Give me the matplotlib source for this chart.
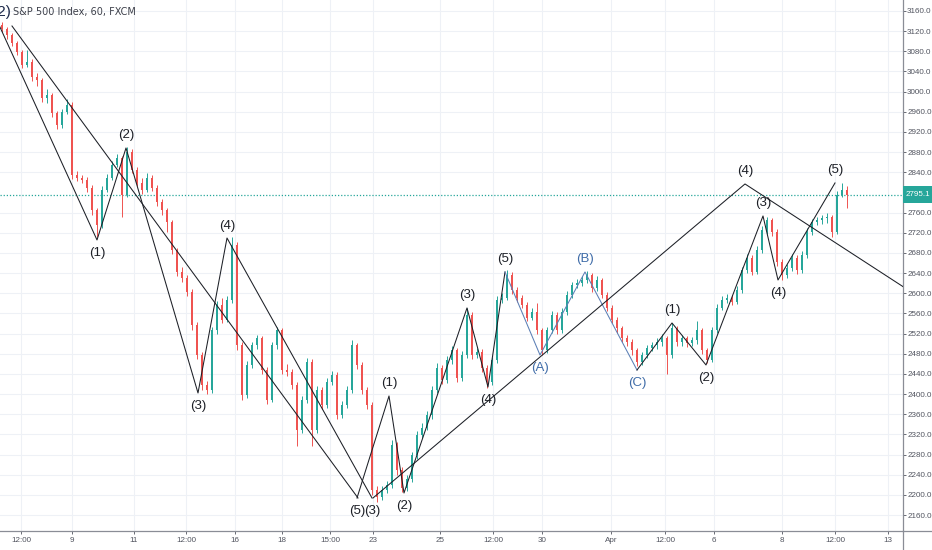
import numpy as np
import matplotlib
matplotlib.use("Agg")
import matplotlib.pyplot as plt
from matplotlib import font_manager
from matplotlib.patches import Rectangle
from matplotlib.lines import Line2D

# hourly S&P 500 candles (one bar per ~5 px of the original)
first_open = 3132
closes = [3125, 3112, 3097, 3079, 3053, 3059, 3029, 3023, 2987, 2993,
          2958, 2934, 2960, 2974, 2835, 2829, 2825, 2809, 2765, 2735,
          2805, 2829, 2855, 2868, 2795, 2880, 2845, 2819, 2805, 2829,
          2809, 2781, 2765, 2741, 2686, 2642, 2630, 2602, 2537, 2478,
          2418, 2408, 2527, 2577, 2547, 2587, 2696, 2497, 2398, 2458,
          2497, 2511, 2448, 2388, 2497, 2527, 2448, 2444, 2418, 2329,
          2388, 2464, 2329, 2408, 2378, 2424, 2438, 2358, 2378, 2408,
          2497, 2458, 2408, 2378, 2210, 2196, 2210, 2220, 2299, 2249,
          2214, 2232, 2279, 2319, 2333, 2358, 2408, 2452, 2428, 2468,
          2487, 2432, 2478, 2557, 2478, 2484, 2452, 2424, 2468, 2587,
          2591, 2636, 2606, 2591, 2577, 2551, 2563, 2527, 2487, 2527,
          2557, 2527, 2563, 2597, 2616, 2620, 2626, 2636, 2610, 2626,
          2597, 2571, 2547, 2531, 2511, 2503, 2487, 2464, 2478, 2491,
          2497, 2503, 2511, 2478, 2531, 2503, 2511, 2501, 2507, 2527,
          2487, 2468, 2527, 2571, 2587, 2591, 2583, 2606, 2646, 2670,
          2642, 2686, 2726, 2745, 2722, 2662, 2636, 2650, 2670, 2646,
          2676, 2722, 2741, 2745, 2749, 2751, 2722, 2795, 2805, 2795.1]
highs = [3138, 3128, 3116, 3101, 3083, 3083, 3064, 3036, 3027, 3005,
         2998, 2962, 2966, 2986, 2980, 2842, 2834, 2830, 2814, 2770,
         2812, 2836, 2862, 2876, 2872, 2890, 2886, 2850, 2828, 2838,
         2834, 2814, 2786, 2770, 2745, 2690, 2652, 2636, 2608, 2542,
         2484, 2426, 2534, 2584, 2590, 2594, 2712, 2702, 2504, 2466,
         2504, 2518, 2516, 2454, 2504, 2534, 2532, 2460, 2450, 2424,
         2396, 2472, 2470, 2416, 2414, 2432, 2446, 2444, 2386, 2416,
         2507, 2502, 2464, 2414, 2384, 2218, 2218, 2228, 2309, 2304,
         2256, 2240, 2286, 2326, 2342, 2366, 2416, 2462, 2458, 2476,
         2495, 2492, 2486, 2571, 2562, 2492, 2490, 2458, 2474, 2594,
         2600, 2646, 2642, 2612, 2596, 2582, 2570, 2580, 2532, 2534,
         2564, 2562, 2570, 2604, 2622, 2628, 2634, 2644, 2640, 2634,
         2630, 2602, 2576, 2552, 2536, 2518, 2510, 2492, 2484, 2498,
         2504, 2512, 2520, 2516, 2541, 2536, 2518, 2516, 2514, 2545,
         2532, 2492, 2534, 2578, 2594, 2598, 2596, 2614, 2652, 2678,
         2676, 2694, 2734, 2752, 2750, 2728, 2668, 2658, 2678, 2676,
         2684, 2730, 2748, 2752, 2756, 2760, 2756, 2802, 2819, 2812]
lows = [3118, 3105, 3090, 3072, 3046, 3048, 3022, 3012, 2980, 2978,
        2950, 2926, 2928, 2955, 2826, 2822, 2818, 2800, 2756, 2712,
        2730, 2800, 2824, 2850, 2751, 2790, 2838, 2812, 2796, 2800,
        2802, 2774, 2756, 2722, 2678, 2634, 2622, 2594, 2528, 2470,
        2408, 2400, 2402, 2520, 2540, 2542, 2580, 2488, 2388, 2392,
        2452, 2490, 2440, 2380, 2384, 2490, 2440, 2436, 2410, 2296,
        2322, 2382, 2296, 2322, 2370, 2372, 2418, 2350, 2352, 2372,
        2402, 2450, 2400, 2370, 2200, 2186, 2190, 2204, 2214, 2240,
        2206, 2208, 2226, 2272, 2312, 2328, 2350, 2402, 2420, 2422,
        2460, 2424, 2426, 2472, 2470, 2472, 2444, 2412, 2418, 2462,
        2580, 2586, 2598, 2582, 2570, 2544, 2546, 2520, 2478, 2482,
        2522, 2520, 2522, 2556, 2590, 2610, 2614, 2620, 2602, 2604,
        2590, 2564, 2540, 2522, 2504, 2496, 2478, 2456, 2458, 2472,
        2486, 2490, 2496, 2440, 2472, 2496, 2496, 2494, 2496, 2500,
        2480, 2462, 2464, 2522, 2566, 2580, 2576, 2578, 2600, 2640,
        2636, 2638, 2680, 2718, 2714, 2654, 2626, 2630, 2644, 2638,
        2640, 2670, 2716, 2736, 2738, 2740, 2712, 2718, 2790, 2769]
opens = [first_open] + closes[:-1]
last_price = 2795.1

# time axis labels at bar positions
tick_pos = [3.8, 14.0, 26.4, 36.8, 46.6, 56.0, 65.6, 74.2, 87.6, 98.2,
            108.0, 121.8, 132.6, 142.4, 156.0, 166.6, 177.2]
tick_lbl = ["12:00", "9", "11", "12:00", "16", "18", "15:00", "23", "25",
            "12:00", "30", "Apr", "12:00", "6", "8", "12:00", "13"]

# Elliott wave drawings (bar, price)
trend1_x = [2.0, 71.2]
trend1_p = [3130.2, 2193.8]
wave1_x = [-1.0, 19.0, 24.8, 39.2, 45.0, 74.0]
wave1_p = [3141.0, 2705.7, 2888.2, 2402.1, 2709.6, 2193.8]
wave1_lbl = [None, "(1)", "(2)", "(3)", "(4)", "(3)"]
wave2_x = [71.0, 77.4, 80.4, 93.0, 97.2, 100.6]
wave2_p = [2193.8, 2396.2, 2203.7, 2570.8, 2414.0, 2642.2]
wave2_lbl = ["(5)", "(1)", "(2)", "(3)", "(4)", "(5)"]
abc_x = [100.6, 107.6, 116.6, 127.0]
abc_p = [2642.2, 2477.5, 2642.2, 2447.7]
abc_lbl = [None, "(A)", "(B)", "(C)"]
wave3_x = [127.0, 134.0, 140.8, 152.2, 155.2, 166.6]
wave3_p = [2447.7, 2541.0, 2457.7, 2753.3, 2626.3, 2818.8]
wave3_lbl = [None, "(1)", "(2)", "(3)", "(4)", "(5)"]
big_x = [74.2, 148.6, 181.0]
big_p = [2193.8, 2816.8, 2608.0]
big_lbl = [None, "(4)", None]

UP, DOWN = "#26a69a", "#ef5350"
INK = "#1c1f26"
BLUE = "#3f6ca8"
AXC = "#50535e"
LABEL_FONT = ["Liberation Sans Narrow", "Liberation Sans", "DejaVu Sans"]

# price-scale text: narrow face if present, else a smaller regular one
installed = {f.name for f in font_manager.fontManager.ttflist}
if "Liberation Sans Narrow" in installed:
    SCALE_FONT, SCALE_SIZE = ["Liberation Sans Narrow"], 6.6
else:
    SCALE_FONT, SCALE_SIZE = ["Liberation Sans", "DejaVu Sans"], 5.8

W, H = 932, 550
fig = plt.figure(figsize=(W / 100, H / 100), dpi=100)
ax = fig.add_axes([0, 19 / H, 903 / W, 531 / H])
YLO, YHI = 2128.3, 3181.8

x = np.arange(len(closes))
o = np.array(opens, float); c = np.array(closes, float)
h = np.array(highs, float); l = np.array(lows, float)
col = np.where(c >= o, UP, DOWN)
ax.vlines(x, l, h, colors=col, lw=0.7, zorder=2)
body = np.maximum(np.abs(c - o), 1.5)
ax.bar(x, body, bottom=np.minimum(o, c), width=0.55, color=col, lw=0, zorder=3)

ax.axhline(last_price, color=UP, lw=0.9, ls=(0, (1, 1.5)), zorder=1)

ax.plot(trend1_x, trend1_p, color=INK, lw=0.75, zorder=4)


def wave(xs, ps, labels, color, line_color=None):
    ax.plot(xs, ps, color=line_color or color, lw=0.75, zorder=4)
    for i, t in enumerate(labels):
        if t is None:
            continue
        prev = ps[i - 1] if i > 0 else ps[i + 1]
        up = ps[i] > prev
        ax.annotate(t, (xs[i], ps[i]), xytext=(0, 9 if up else -9.5),
                    textcoords="offset points", ha="center", va="center",
                    fontsize=9.5, color=color, zorder=6, family=LABEL_FONT,
                    annotation_clip=False)


wave(wave1_x, wave1_p, wave1_lbl, INK)
wave(wave2_x, wave2_p, wave2_lbl, INK)
wave(abc_x, abc_p, abc_lbl, BLUE, line_color="#5b7fb5")
wave(wave3_x, wave3_p, wave3_lbl, INK)
wave(big_x, big_p, big_lbl, INK)
# the cut-off wave (2) label in the top-left corner
ax.annotate("(2)", (wave1_x[0], wave1_p[0]), xytext=(3, 6), textcoords="offset points",
            ha="center", va="center", fontsize=11, color="#1e2a4a", zorder=6,
            family=LABEL_FONT, annotation_clip=False)

ax.set_xlim(-0.4, 180.2)
ax.set_ylim(YLO, YHI)
yt = [v for v in range(2160, 3161, 40) if v != 2800]
ax.set_yticks(yt)
ax.set_yticklabels([f"{v:.1f}" for v in yt], family=SCALE_FONT)
ax.set_xticks(tick_pos)
ax.set_xticklabels(tick_lbl, family=SCALE_FONT)
ax.yaxis.tick_right()
ax.tick_params(axis="both", labelsize=SCALE_SIZE, colors=AXC, length=2.2, width=0.6, pad=2)
ax.tick_params(axis="y", pad=0.8)
ax.grid(True, color="#eef1f6", lw=0.8, zorder=0)
ax.set_axisbelow(True)
for s in ("top", "left"):
    ax.spines[s].set_visible(False)
for s in ("right", "bottom"):
    ax.spines[s].set_color("#8a8d96")
    ax.spines[s].set_linewidth(0.9)

# axis corner lines and last-price tag on the price scale
fig.add_artist(Line2D([903 / W, 903 / W], [0, 19 / H], color="#8a8d96", lw=0.9))
fig.add_artist(Line2D([903 / W, 1], [19 / H, 19 / H], color="#8a8d96", lw=0.9))
yfrac = 19 / H + (last_price - YLO) / (YHI - YLO) * 531 / H
fig.add_artist(Rectangle((903 / W, yfrac - 8.5 / H), 29 / W, 17 / H,
                         transform=fig.transFigure, fc=UP, ec="none", zorder=10))
fig.text(917.5 / W, yfrac, f"{last_price:.1f}", ha="center", va="center",
         fontsize=SCALE_SIZE, color="white", zorder=11, family=SCALE_FONT)

fig.text(13 / W, 1 - 12 / H, "S&P 500 Index, 60, FXCM", ha="left", va="center",
         fontsize=7, color="#3d404a")

fig.savefig("out.png", dpi=100, facecolor="white")
